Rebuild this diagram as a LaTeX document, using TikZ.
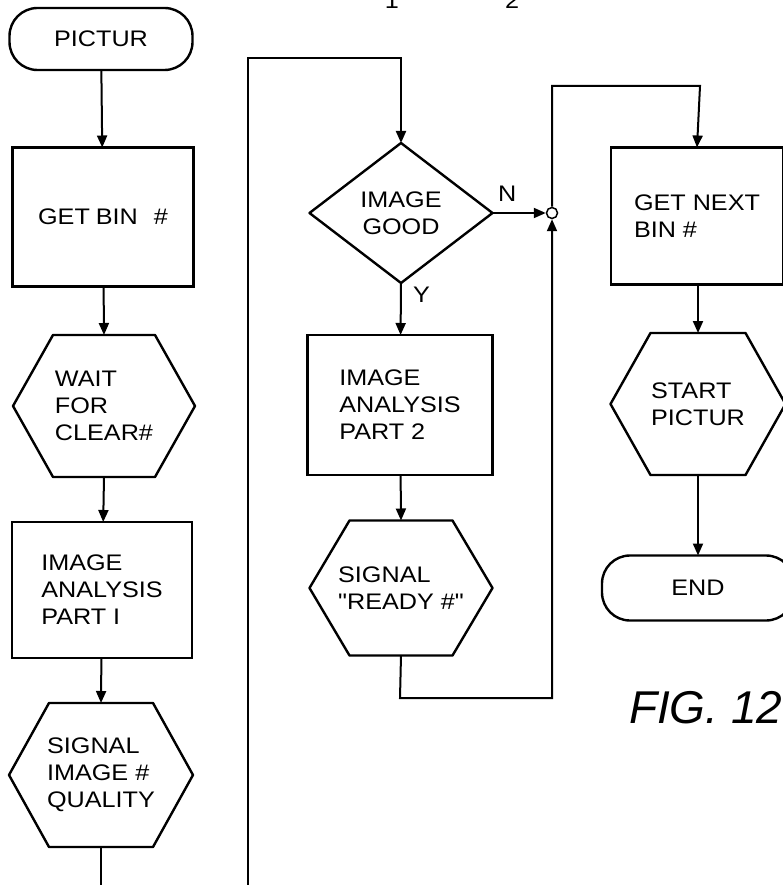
\documentclass[tikz,border=0pt]{standalone}
\usepackage{fontspec}
\setmainfont{Liberation Sans}[FakeStretch=1.12, Ligatures=TeXOff]
\newfontfamily\figfont{Liberation Sans}
\usetikzlibrary{arrows.meta}
\newcommand\hexdraw[1]{\draw[line width=2.4pt, line join=round] ([xshift=40pt]#1.north west) -- ([xshift=-40pt]#1.north east) -- (#1.east) -- ([xshift=-40pt]#1.south east) -- ([xshift=40pt]#1.south west) -- (#1.west) -- cycle;}
\begin{document}
\begin{tikzpicture}[x=1pt,y=-1pt,line width=2pt,
  txt/.style={font=\fontsize{22.5}{27}\selectfont, align=left, inner sep=0pt, outer sep=0pt},
  boxnode/.style={txt, draw, line width=2.4pt, rectangle},
  hexnode/.style={txt, rectangle},
  term/.style={txt, draw, line width=2.4pt, rectangle, rounded corners=28pt},
  arr/.style={-{Triangle[length=12pt,width=10pt]}},
  lab/.style={font=\fontsize{22.5}{27}\selectfont, inner sep=0pt}
]
\useasboundingbox (0,0) rectangle (783,885);
% left column
\node[term, minimum width=183pt, minimum height=62pt] (pictur) at (101,39) {PICTUR};
\node[boxnode, minimum width=181pt, minimum height=139pt] (getbin) at (103,217) {GET\hspace{6pt}BIN\hspace{16pt}\#};
\node[hexnode, minimum width=182pt, minimum height=142pt] (wait) at (104,406) {WAIT\\FOR\\CLEAR\#};
\hexdraw{wait}
\node[boxnode, minimum width=180pt, minimum height=136pt] (iaone) at (102,590) {IMAGE\\ANALYSIS\\PART I};
\node[hexnode, minimum width=184pt, minimum height=144pt] (sigq) at (101,775) {SIGNAL\\IMAGE \#\\QUALITY};
\hexdraw{sigq}
\coordinate (leftend) at (101,885);
\draw[arr] (pictur) -- (getbin);
\draw[arr] (getbin) -- (wait.north);
\draw[arr] (wait.south) -- (iaone);
\draw[arr] (iaone) -- (sigq.north);
\draw (sigq.south) -- (leftend);
% middle column
\node[txt, align=center, minimum width=183pt, minimum height=140pt] (dia) at (401,213) {IMAGE\\GOOD};
\draw[line width=2.4pt, line join=round] (dia.north) -- (dia.east) -- (dia.south) -- (dia.west) -- cycle;
\node[boxnode, minimum width=185pt, minimum height=140pt] (iatwo) at (400,405) {IMAGE\\ANALYSIS\\PART 2};
\node[hexnode, minimum width=183pt, minimum height=135pt] (sigr) at (401,588) {SIGNAL\\"READY \#"};
\hexdraw{sigr}
\coordinate (cbot) at (248,885);
\coordinate (ctop) at (248,58);
\coordinate (cmid) at (401,58);
\draw[arr] (cbot) -- (ctop) -- (cmid) -- (dia.north);
\draw[arr] (dia.south) -- (iatwo);
\draw[arr] (iatwo) -- (sigr.north);
\node[lab, anchor=south west] (nlab) at (497,203) {N};
\node[lab, anchor=north west] (ylab) at (412,286) {Y};
% junction
\node[circle, draw, line width=1.5pt, minimum size=11pt, inner sep=0pt, fill=white] (j) at (552,213) {};
\draw[arr] (dia.east) -- (j.west);
\coordinate (rb1) at (400,698);
\coordinate (rb2) at (552,698);
\draw[arr] (sigr.south) -- (rb1) -- (rb2) -- (j.south);
\coordinate (rt1) at (552,86);
\coordinate (rt2) at (700,86);
% right column
\node[boxnode, minimum width=172pt, minimum height=137pt] (getnext) at (697,216) {GET NEXT\\BIN \#};
\node[hexnode, minimum width=175pt, minimum height=142pt] (startp) at (698,404) {START\\PICTUR};
\hexdraw{startp}
\node[term, minimum width=192pt, minimum height=65pt] (endn) at (698,588) {END};
\draw[arr] (j.north) -- (rt1) -- (rt2) -- (getnext.north);
\draw[arr] (getnext.south -| startp.north) -- (startp.north);
\draw[arr] (startp.south) -- (endn);
% figure label and cut top marks
\node[font=\figfont\fontsize{46}{46}\selectfont\itshape, anchor=west, inner sep=0pt] (fig) at (628,708) {FIG. 12};
\node[lab, anchor=base] (mone) at (392,9) {1};
\node[lab, anchor=base] (mtwo) at (512,9) {2};
\end{tikzpicture}
\end{document}
